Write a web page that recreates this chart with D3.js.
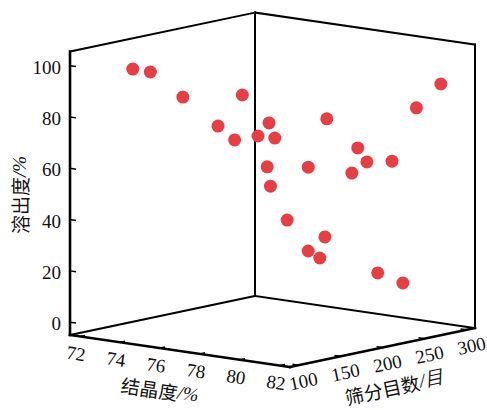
<!DOCTYPE html>
<html>
<head>
<meta charset="utf-8">
<script src="https://cdn.jsdelivr.net/npm/d3@7"></script>
<style>
  body { margin: 0; background: #fff; }
  .tick text { font-family: "Liberation Serif", serif; font-size: 19px; fill: #111; }
  .title { font-family: "Noto Sans CJK SC", sans-serif; font-size: 19px; fill: #111; }
</style>
</head>
<body>
<svg id="chart" width="487" height="410"></svg>
<script>
// crystallinity (%), sieve mesh, dissolution (%)
var crystallinity = [73.0, 73.5, 75.0, 76.5, 76.0, 77.0, 77.5, 78.0, 78.5, 79.0, 81.0, 81.8, 80.0,
                     80.5, 81.0, 80.0, 79.0, 78.5, 79.0, 79.5, 80.0, 79.5, 80.5, 81.0, 81.5];
var meshCount = [129, 138, 141, 176, 159, 155, 184, 159, 167, 217, 276, 286, 230,
                 229, 247, 223, 195, 158, 150, 158, 191, 183, 173, 230, 248];
var dissolution = [97.7, 96.5, 88.2, 88.3, 76.8, 72.8, 78.0, 75.2, 74.4, 79.0, 81.5, 91.0, 67.9,
                   63.1, 62.7, 58.6, 61.7, 63.8, 57.4, 44.2, 35.9, 30.4, 29.5, 20.3, 15.7];

var crystTicks = [72, 74, 76, 78, 80, 82];
var meshTicks = [100, 150, 200, 250, 300];
var zTicks = [0, 20, 40, 60, 80, 100];

var svg = d3.select("#chart");

// each axis mapped onto 0..1, then a fixed oblique projection
var cScale = d3.scaleLinear().domain([71.5, 82.5]).range([0, 1]),
    mScale = d3.scaleLinear().domain([90, 310]).range([0, 1]),
    zScale = d3.scaleLinear().domain([-5, 105.5]).range([0, 1]);

var origin = [70, 335],
    vc = [220, 32],
    vm = [185, -39],
    vz = [0, -283.4];

function proj(c, m, z) {
  var a = cScale(c), b = mScale(m), d = zScale(z);
  return [origin[0] + a * vc[0] + b * vm[0] + d * vz[0],
          origin[1] + a * vc[1] + b * vm[1] + d * vz[1]];
}

var c0 = 71.5, c1 = 82.5, m0 = 90, m1 = 310, z0 = -5, z1 = 105.5;

function seg(p, q, w) {
  svg.append("line")
    .attr("x1", p[0]).attr("y1", p[1])
    .attr("x2", q[0]).attr("y2", q[1])
    .attr("stroke", "#000")
    .attr("stroke-width", w)
    .attr("stroke-linecap", "square");
}

// box: back walls
seg(proj(c0, m0, z0), proj(c0, m1, z0), 2);
seg(proj(c0, m1, z0), proj(c1, m1, z0), 2);
seg(proj(c0, m1, z0), proj(c0, m1, z1), 2);
seg(proj(c1, m1, z0), proj(c1, m1, z1), 2);
seg(proj(c0, m0, z1), proj(c0, m1, z1), 2);
seg(proj(c0, m1, z1), proj(c1, m1, z1), 2);

// axes
seg(proj(c0, m0, z0), proj(c0, m0, z1), 2.6);
seg(proj(c0, m0, z0), proj(c1, m0, z0), 2.6);
seg(proj(c1, m0, z0), proj(c1, m1, z0), 2.6);

// z ticks
var zt = svg.selectAll(".ztick").data(zTicks).enter().append("g").attr("class", "tick ztick");
zt.append("line")
  .attr("x1", function(d) { return proj(c0, m0, d)[0]; })
  .attr("y1", function(d) { return proj(c0, m0, d)[1]; })
  .attr("x2", function(d) { return proj(c0 + 0.3, m0, d)[0]; })
  .attr("y2", function(d) { return proj(c0 + 0.3, m0, d)[1]; })
  .attr("stroke", "#000").attr("stroke-width", 1.5);
zt.append("text")
  .attr("x", function(d) { return proj(c0, m0, d)[0] - 9; })
  .attr("y", function(d) { return proj(c0, m0, d)[1] + 1.5; })
  .attr("text-anchor", "end")
  .attr("dominant-baseline", "central")
  .text(function(d) { return d; });

// crystallinity ticks
var ct = svg.selectAll(".ctick").data(crystTicks).enter().append("g").attr("class", "tick ctick");
ct.append("line")
  .attr("x1", function(d) { return proj(d, m0, z0)[0]; })
  .attr("y1", function(d) { return proj(d, m0, z0)[1]; })
  .attr("x2", function(d) { return proj(d, m0 + 6, z0)[0]; })
  .attr("y2", function(d) { return proj(d, m0 + 6, z0)[1]; })
  .attr("stroke", "#000").attr("stroke-width", 1.5);
ct.append("text")
  .attr("transform", function(d) {
    var p = proj(d, m0, z0);
    return "translate(" + (p[0] - 4) + "," + (p[1] + 17) + ") rotate(8.3)";
  })
  .attr("text-anchor", "middle")
  .attr("dominant-baseline", "central")
  .text(function(d) { return d; });

// mesh ticks
var mt = svg.selectAll(".mtick").data(meshTicks).enter().append("g").attr("class", "tick mtick");
mt.append("line")
  .attr("x1", function(d) { return proj(c1, d, z0)[0]; })
  .attr("y1", function(d) { return proj(c1, d, z0)[1]; })
  .attr("x2", function(d) { return proj(c1 - 0.3, d, z0)[0]; })
  .attr("y2", function(d) { return proj(c1 - 0.3, d, z0)[1]; })
  .attr("stroke", "#000").attr("stroke-width", 1.5);
mt.append("text")
  .attr("transform", function(d) {
    var p = proj(c1, d, z0);
    return "translate(" + (p[0] + 5) + "," + (p[1] + 16) + ") rotate(-11.9)";
  })
  .attr("text-anchor", "middle")
  .attr("dominant-baseline", "central")
  .text(function(d) { return d; });

// axis titles
function title(x, y, rot, main, unit) {
  var t = svg.append("text")
    .attr("class", "title")
    .attr("transform", "translate(" + x + "," + y + ") rotate(" + rot + ")")
    .attr("text-anchor", "middle")
    .attr("dominant-baseline", "central");
  t.append("tspan").text(main);
  t.append("tspan").attr("font-family", "Liberation Serif").attr("font-style", "italic").text(unit);
}
title(19, 195, -90, "溶出度", "/%");
title(160, 389, 8.3, "结晶度", "/%");
title(394, 386, -11.9, "筛分目数", "/目");

// points
svg.selectAll(".pt")
  .data(d3.range(dissolution.length))
  .enter().append("circle")
  .attr("class", "pt")
  .attr("cx", function(i) { return proj(crystallinity[i], meshCount[i], dissolution[i])[0]; })
  .attr("cy", function(i) { return proj(crystallinity[i], meshCount[i], dissolution[i])[1]; })
  .attr("r", 6.5)
  .attr("fill", "#e53e45");
</script>
</body>
</html>
